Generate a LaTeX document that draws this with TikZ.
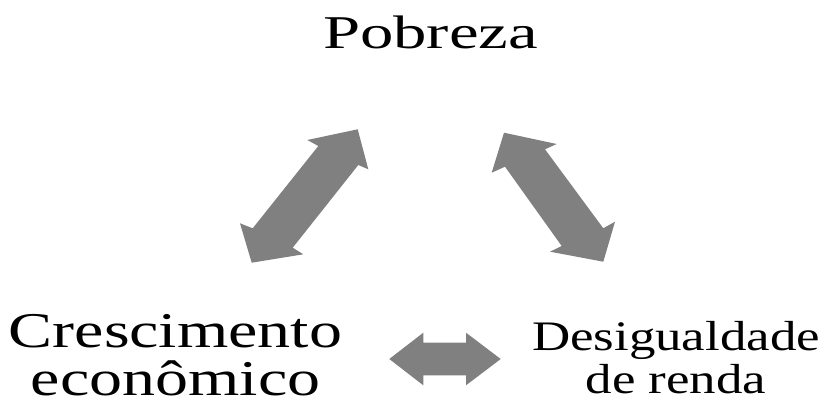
\documentclass[tikz,border=0pt]{standalone}
\usepackage{fontspec}
\setmainfont{Liberation Serif}
\newfontfamily\fpob[FakeStretch=1.42]{Liberation Serif}
\newfontfamily\fcre[FakeStretch=1.32]{Liberation Serif}
\newfontfamily\fdes[FakeStretch=1.26]{Liberation Serif}
\definecolor{arrowgray}{RGB}{128,128,128}
\tikzset{
  blockarrow/.style={fill=arrowgray, draw=none},
  label/.style={inner sep=0pt, anchor=base, align=center, text=black}
}
\begin{document}
\begin{tikzpicture}[x=1pt,y=-1pt]
\useasboundingbox[fill=white] (0,0) rectangle (830,401);
% labels
\node[label, font=\fpob\fontsize{47}{47}\selectfont] (pob) at (430.5,48.5) {Pobreza};
\node[label, font=\fcre\fontsize{50}{48}\selectfont] (cre) at (175.5,395) {Crescimento\\econômico};
\node[label, font=\fdes\fontsize{42}{43}\selectfont] (des) at (676,393.5) {Desigualdade\\de renda};
% left diagonal arrow
\fill[blockarrow] (357.7,129.3) -- (368.3,169.3) -- (358.3,165) -- (292.7,247.7) -- (303.3,254.3)
  -- (251.7,262.7) -- (240,223.3) -- (252.7,228.3) -- (318.3,146) -- (307.3,140) -- cycle;
% right diagonal arrow
\fill[blockarrow] (504,132.7) -- (556.7,144) -- (545,149.3) -- (603.3,228.3) -- (615,221.7)
  -- (603.3,261.7) -- (550,251.7) -- (561.7,246) -- (505,166.7) -- (491.7,172.7) -- cycle;
% horizontal arrow
\fill[blockarrow] (389.3,359) -- (423.3,332.7) -- (423.3,342.7) -- (466,342.7) -- (466,332.7)
  -- (500.7,359) -- (466,385.3) -- (466,375.3) -- (423.3,375.3) -- (423.3,385.3) -- cycle;
\end{tikzpicture}
\end{document}
